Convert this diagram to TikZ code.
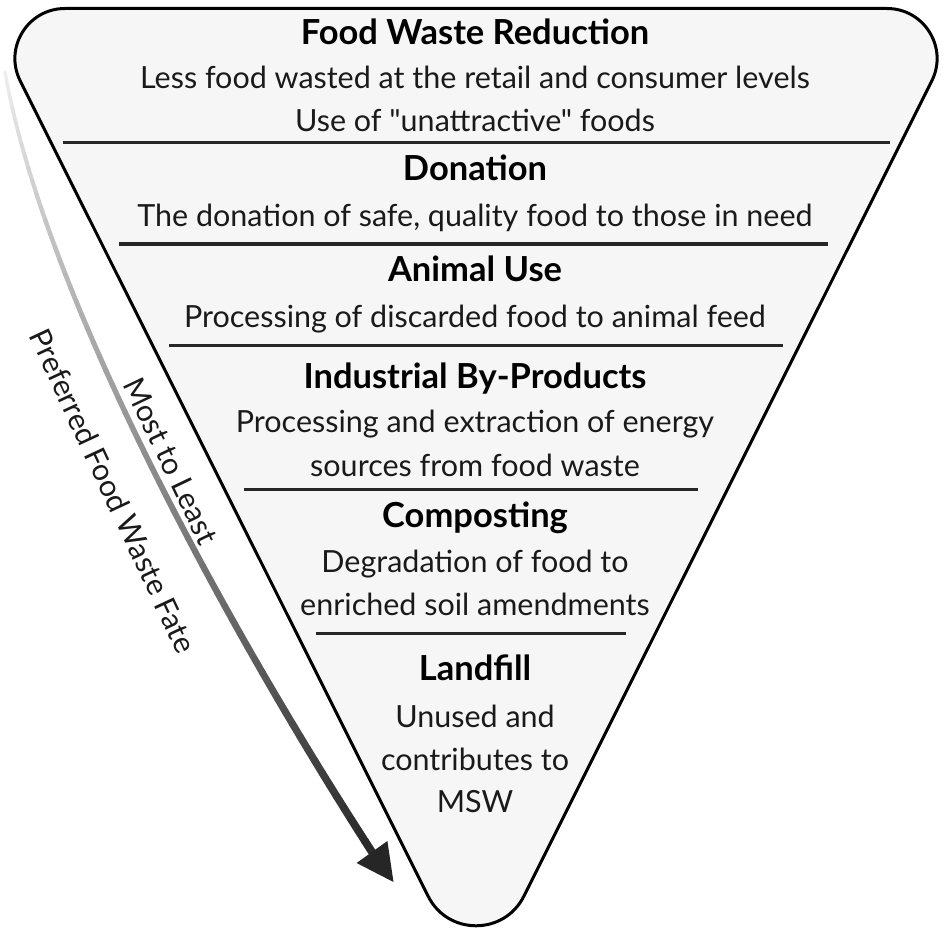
\documentclass[tikz,border=0pt]{standalone}
\usepackage{fontspec}
\setmainfont{Lato}[Ligatures=TeXOff]
\definecolor{fillc}{HTML}{F6F6F6}
\definecolor{divc}{HTML}{262626}
\definecolor{txtc}{HTML}{1A1A1A}
\definecolor{headc}{HTML}{262626}
\begin{document}
\begin{tikzpicture}[x=1pt,y=-1pt,
  lvltitle/.style={font=\fontsize{34.5}{40}\selectfont\bfseries, anchor=base, inner sep=0pt, text=black},
  lvltext/.style={font=\fontsize{30.5}{36}\selectfont, anchor=base, inner sep=0pt, text=txtc},
  divider/.style={line width=3pt, draw=divc},
  sidetxt/.style={font=\fontsize{30}{36}\selectfont, inner sep=0pt, text=txtc}]
\useasboundingbox (0,0) rectangle (945,936);

% gradient arrow
\foreach \i in {0,...,59}{
  \pgfmathsetmacro\tA{\i/60}
  \pgfmathsetmacro\tB{(\i+1)/60}
  \pgfmathsetmacro\gv{0.93-0.78*\tA}
  \pgfmathsetmacro\wv{3.5+4.5*\tA}
  \definecolor{segc}{gray}{\gv}
  \path (5,72) .. controls (45,300) and (235,640) .. (372,852)
     coordinate[pos=\tA] (sa) coordinate[pos=\tB] (sb);
  \draw[segc, line width=\wv pt, line cap=round] (sa) -- (sb);
}
\coordinate (tipL) at (356.6,863);
\coordinate (tipR) at (387.4,841);
\coordinate (tip) at (393.5,882);
\fill[headc] (tipL) -- (tip) -- (tipR) -- cycle;

% inverted pyramid
\draw[line width=3pt, fill=fillc]
  (65,8.5) -- (887,8.5) .. controls (924.2,8.5) and (948.4,47.6) .. (931.8,80.9)
  -- (523.8,896.3) .. controls (504.1,935.6) and (447.9,935.6) .. (428.2,896.3)
  -- (20.2,80.9) .. controls (3.6,47.6) and (27.8,8.5) .. (65,8.5) -- cycle;

% dividers
\draw[divider] (63,143) -- (890,143);
\draw[divider] (119,244) -- (828,244);
\draw[divider] (169,345) -- (783,345);
\draw[divider] (244,489) -- (698,489);
\draw[divider] (316,633) -- (626,633);

% texts
\node[lvltitle] (t1) at (475,45) {Food Waste Reduction};
\node[lvltext] (d1a) at (475,89) {Less food wasted at the retail and consumer levels};
\node[lvltext] (d1b) at (475,132) {Use of "unattractive" foods};
\node[lvltitle] (t2) at (475,181) {Donation};
\node[lvltext] (d2) at (475,227) {The donation of safe, quality food to those in need};
\node[lvltitle] (t3) at (475,281) {Animal Use};
\node[lvltext] (d3) at (475,327) {Processing of discarded food to animal feed};
\node[lvltitle] (t4) at (475,388) {Industrial By-Products};
\node[lvltext] (d4a) at (475,432) {Processing and extraction of energy};
\node[lvltext] (d4b) at (475,476) {sources from food waste};
\node[lvltitle] (t5) at (475,527) {Composting};
\node[lvltext] (d5a) at (475,572) {Degradation of food to};
\node[lvltext] (d5b) at (475,615) {enriched soil amendments};
\node[lvltitle] (t6) at (475,680) {Landfill};
\node[lvltext] (d6a) at (475,727) {Unused and};
\node[lvltext] (d6b) at (475,770) {contributes to};
\node[lvltext] (d6c) at (475,812) {MSW};

% side labels
\node[sidetxt, rotate=-64.5] (s1) at (171,461) {Most to Least};
\node[sidetxt, rotate=-65] (s2) at (113,491) {Preferred Food Waste Fate};
\end{tikzpicture}
\end{document}
